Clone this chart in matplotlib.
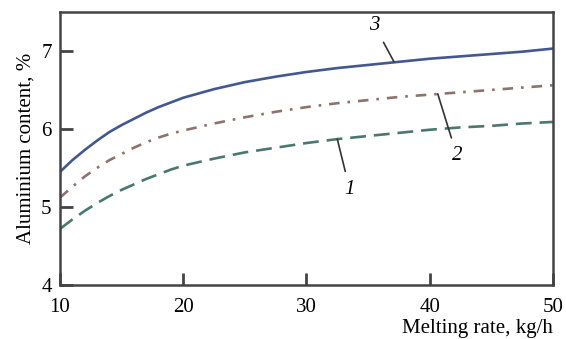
import matplotlib
matplotlib.use("Agg")
import matplotlib.pyplot as plt

plt.rcParams['font.family'] = ['Liberation Serif', 'DejaVu Serif']

# Melting rate, kg/h
rate = [10, 11, 12, 13, 14, 15, 16, 17, 18, 19, 20,
        22.5, 25, 27.5, 30, 32.5, 35, 37.5, 40, 42.5, 45, 47.5, 50]
# Aluminium content, % (curves 1, 2, 3)
al_1 = [4.72, 4.84, 4.95, 5.05, 5.14, 5.22, 5.29, 5.36, 5.42, 5.48, 5.53,
        5.62, 5.70, 5.76, 5.82, 5.87, 5.91, 5.95, 5.99, 6.02, 6.04, 6.07, 6.09]
al_2 = [5.12, 5.26, 5.39, 5.50, 5.60, 5.68, 5.76, 5.83, 5.89, 5.94, 5.98,
        6.07, 6.15, 6.22, 6.28, 6.33, 6.37, 6.41, 6.44, 6.47, 6.50, 6.53, 6.56]
al_3 = [5.45, 5.60, 5.73, 5.85, 5.96, 6.05, 6.13, 6.21, 6.28, 6.34, 6.40,
        6.51, 6.60, 6.67, 6.73, 6.78, 6.82, 6.86, 6.90, 6.93, 6.96, 6.99, 7.03]

fig = plt.figure(figsize=(5.66, 3.39), dpi=100)
ax = fig.add_axes([0.106, 0.159, 0.871, 0.806])

ax.plot(rate, al_3, color='#42588f', lw=1.9)
ax.plot(rate, al_2, color='#8c746d', lw=1.9, dashes=(4, 3, 1, 3))
ax.plot(rate, al_1, color='#4a7770', lw=1.9, dashes=(6, 3))

ax.set_xlim(10, 50)
ax.set_ylim(4, 7.5)
ax.set_xticks([10, 20, 30, 40, 50])
ax.set_yticks([4, 5, 6, 7])
ax.tick_params(direction='in', length=9, width=2, color='#444444',
               labelsize=15)
ax.tick_params(axis='x', pad=9)
ax.tick_params(axis='y', pad=6)
for s in ax.spines.values():
    s.set_linewidth(1.8)
    s.set_color('#444444')

ax.set_xlabel('Melting rate, kg/h', fontsize=15)
ax.xaxis.set_label_coords(1.0, -0.125)
ax.xaxis.label.set_horizontalalignment('right')
ax.set_ylabel('Aluminium content, %', fontsize=15, labelpad=4)

# curve labels with leader lines
lead = dict(arrowstyle='-', lw=1.2, color='#333333', shrinkA=4, shrinkB=0)
ax.annotate('3', xy=(37.1, 6.86), xytext=(35.5, 7.33), fontsize=15,
            style='italic', ha='center', va='center', arrowprops=lead)
ax.annotate('2', xy=(40.65, 6.45), xytext=(42.2, 5.66), fontsize=15,
            style='italic', ha='center', va='center', arrowprops=lead)
ax.annotate('1', xy=(32.5, 5.87), xytext=(33.5, 5.23), fontsize=15,
            style='italic', ha='center', va='center', arrowprops=lead)

fig.savefig('out.png', dpi=100)
